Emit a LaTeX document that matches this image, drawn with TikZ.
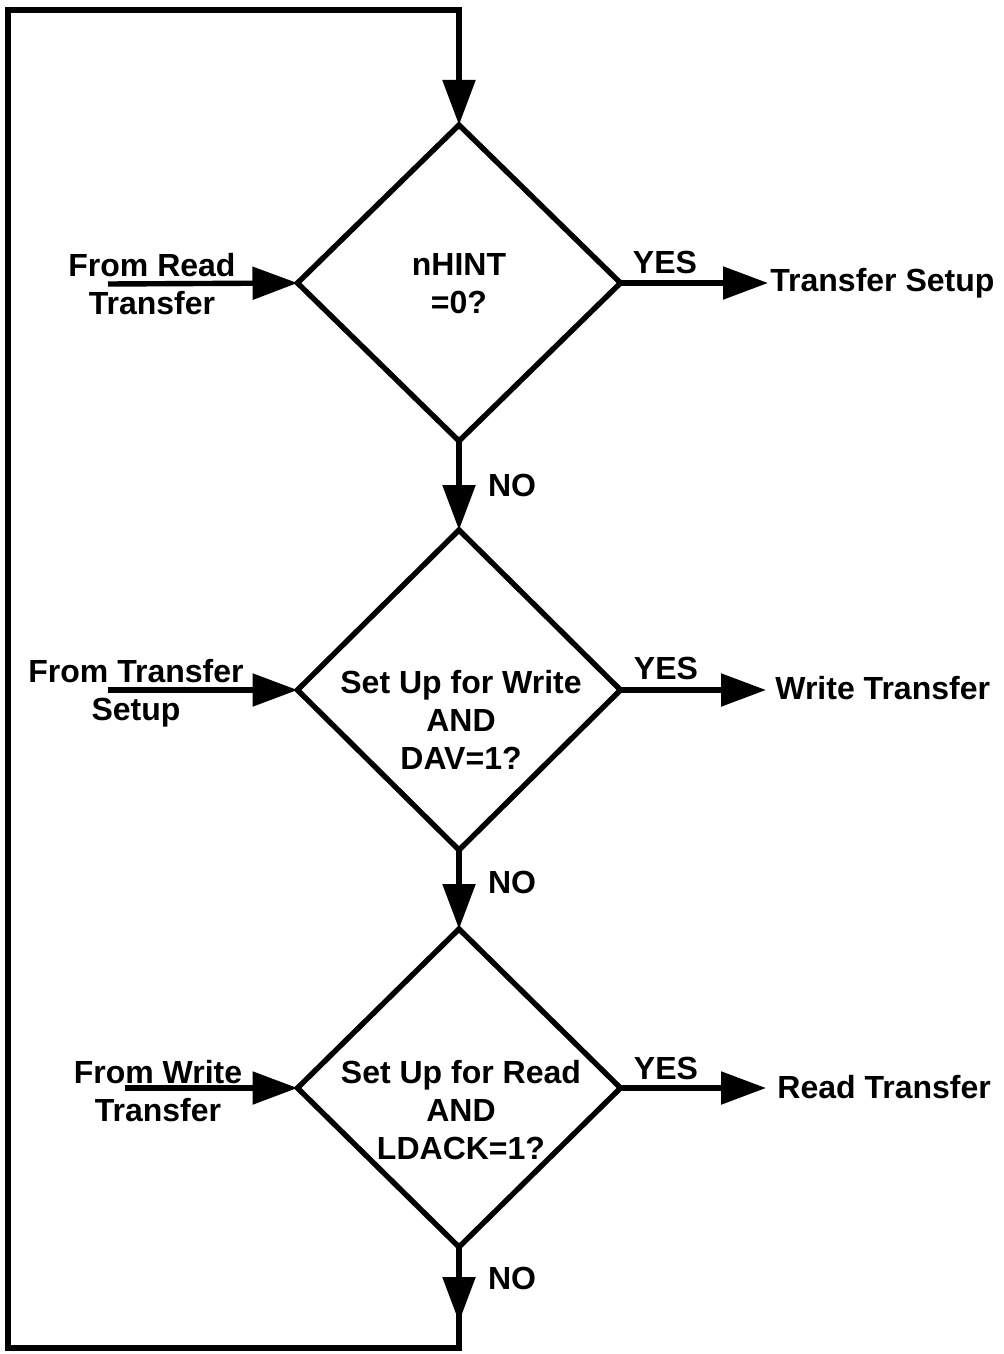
\documentclass[tikz,border=0pt]{standalone}
\usepackage{fontspec}
\setmainfont{Liberation Sans}
\usetikzlibrary{shapes.geometric,arrows.meta}
\begin{document}
\begin{tikzpicture}[x=0.5pt,y=-0.5pt,
  dia/.style={draw,diamond,line width=2.7pt,minimum width=161.5pt,minimum height=158pt,inner sep=0pt,outer sep=0pt},
  lbl/.style={font=\fontsize{16}{19}\selectfont\bfseries,align=center,inner sep=0pt},
  conn/.style={line width=2.7pt},
  arr/.style={conn,-{Triangle[length=22.5pt,width=16pt]}}]
\fill[white] (0,0) rectangle (1004,1354);
\useasboundingbox (0,0) rectangle (1004,1354);
% decisions
\node[dia] (d1) at (459,283) {};
\node[dia,minimum height=160pt] (d2) at (459,690) {};
\node[dia,minimum height=159pt] (d3) at (459,1088) {};
\node[lbl] (t1) at (459,284) {nHINT\\=0?};
\node[lbl] (t2) at (461,720) {Set Up for Write\\AND\\DAV=1?};
\node[lbl] (t3) at (461,1110) {Set Up for Read\\AND\\LDACK=1?};
% incoming arrows
\coordinate (l1) at (108,284);
\coordinate (l2) at (108,690);
\coordinate (l3) at (125,1088);
\draw[arr] (l1) -- (d1.west);
\draw[arr] (l2) -- (d2.west);
\draw[arr] (l3) -- (d3.west);
\node[lbl] (f1) at (152,284) {From Read\\Transfer};
\node[lbl] (f2) at (136,693) {From Transfer\\Setup};
\node[lbl] (f3) at (158,1091) {From Write\\Transfer};
% yes arrows
\coordinate (r1) at (768,283);
\coordinate (r2) at (766,690);
\coordinate (r3) at (766,1088);
\draw[arr] (d1.east) -- (r1);
\draw[arr] (d2.east) -- (r2);
\draw[arr] (d3.east) -- (r3);
\node[lbl,anchor=west] (o1) at (770,283) {Transfer Setup};
\node[lbl,anchor=west] (o2) at (775,688) {Write Transfer};
\node[lbl,anchor=west] (o3) at (777,1087) {Read Transfer};
\node[lbl] (y1) at (665,262) {YES};
\node[lbl] (y2) at (666,668) {YES};
\node[lbl] (y3) at (666,1068) {YES};
% no arrows
\draw[arr] (d1.south) -- (d2.north);
\draw[arr] (d2.south) -- (d3.north);
\coordinate (c1) at (459,1322);
\node[lbl] (n1) at (512,485) {NO};
\node[lbl] (n2) at (512,882) {NO};
\node[lbl] (n3) at (512,1278) {NO};
% loop back
\coordinate (bl) at (8,1348);
\coordinate (tl) at (8,10);
\coordinate (tr) at (459,10);
\draw[arr] (d3.south) |- (bl) -- (tl) -- (tr) -- (d1.north);
\draw[arr] (d3.south) -- (c1);
\end{tikzpicture}
\end{document}
